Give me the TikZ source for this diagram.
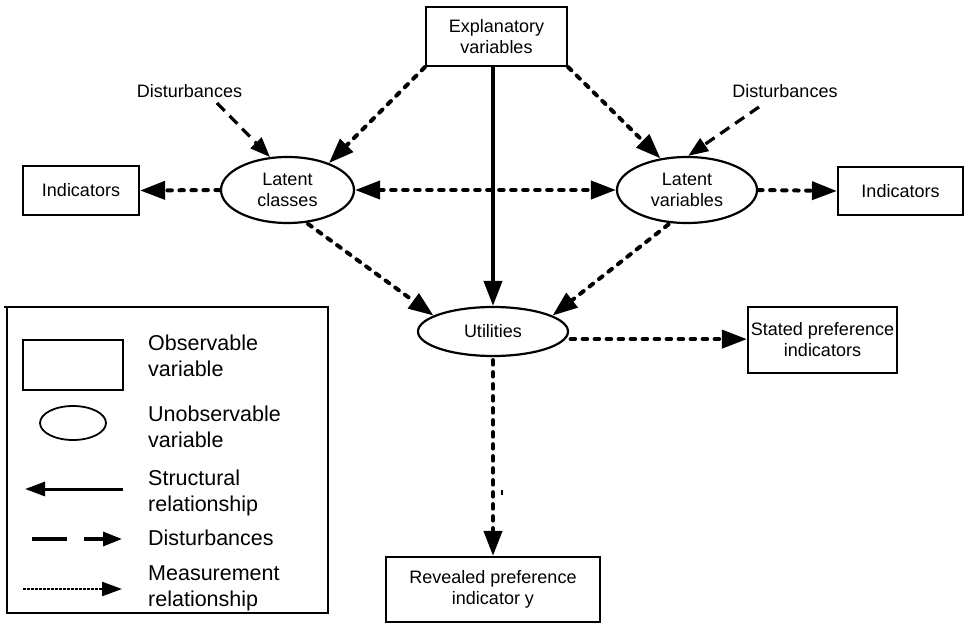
\documentclass[tikz,border=0pt]{standalone}
\usepackage{fontspec}
\setmainfont{Liberation Sans}
\usetikzlibrary{arrows.meta,shapes.geometric}
\begin{document}
\begin{tikzpicture}[x=1pt,y=-1pt,
  box/.style={draw, line width=2.2pt, rectangle, inner sep=0pt, align=center, font=\fontsize{18}{21}\selectfont},
  ell/.style={draw, line width=2.2pt, ellipse, inner sep=0pt, align=center, font=\fontsize{18}{21}\selectfont},
  lbl/.style={inner sep=0pt, font=\fontsize{18}{21}\selectfont},
  leg/.style={inner sep=0pt, anchor=west, align=left, font=\fontsize{21.5}{26}\selectfont},
  bigtip/.style={-{Triangle[length=25pt,width=18pt]}},
  bothtip/.style={{Triangle[length=25pt,width=18pt]}-{Triangle[length=25pt,width=18pt]}},
  measline/.style={line width=4pt, dash pattern=on 4.5pt off 7.5pt, line cap=round},
  meas/.style={measline, bigtip},
  dist/.style={line width=3.2pt, dash pattern=on 11pt off 7pt, -{Triangle[length=20pt,width=15pt]}},
  struct/.style={line width=4pt, bigtip},
]
\useasboundingbox (0,0) rectangle (967,623);

% main nodes
\node[box, minimum width=141pt, minimum height=59pt] (ev) at (496.5,36.5) {Explanatory\\variables};
\node[box, minimum width=116pt, minimum height=49pt] (li) at (81,190.5) {Indicators};
\node[box, minimum width=125pt, minimum height=48pt] (ri) at (900.5,191) {Indicators};
\node[ell, minimum width=133pt, minimum height=66pt] (lc) at (287.5,190) {Latent\\classes};
\node[ell, minimum width=140pt, minimum height=66pt] (lv) at (687,190) {Latent\\variables};
\node[ell, minimum width=150pt, minimum height=49pt] (u) at (493,331.5) {Utilities};
\node[box, minimum width=149pt, minimum height=66pt] (sp) at (822.5,340) {Stated preference\\indicators};
\node[box, minimum width=214pt, minimum height=65pt] (rp) at (493,589.5) {Revealed preference\\indicator y};
\node[lbl] (dl) at (189.5,91) {Disturbances};
\node[lbl] (dr) at (785,91) {Disturbances};
\coordinate (dls) at (217,103);
\coordinate (drs) at (759,107);

% connectors
\draw[meas] (ev.south west) -- (lc.33);
\draw[meas] (ev.south east) -- (lv.130);
\draw[struct] (ev.south -| u.north) -- (u.north);
\draw[dist] (dls) -- (lc.118);
\draw[dist] (drs) -- (lv.88);
\draw[meas] (lc.west) -- (li.east);
\draw[measline, bothtip] (lc.east) -- (lv.west);
\draw[meas] (lv.east) -- (ri.west);
\draw[meas, shorten <=2pt] (lc.-60) -- (u.165);
\draw[meas, shorten <=2pt] (lv.-117) -- (u.15);
\draw[meas, shorten <=5pt] (u.-6) -- (u.-6 -| sp.west);
\draw[meas, shorten <=3pt] (u.south) -- (rp.north);
\coordinate (tk1) at (502,490);
\coordinate (tk2) at (502,495);
\draw[line width=1.5pt] (tk1) -- (tk2);

% legend
\coordinate (lgtl) at (7,307);
\coordinate (lgbr) at (328,613);
\draw[line width=1.4pt] (lgtl) rectangle (lgbr);
\coordinate (lgt1) at (4,307);
\coordinate (lgt2) at (328,307);
\draw[line width=2.4pt] (lgt1) -- (lgt2);
\node[draw, line width=2.2pt, minimum width=100pt, minimum height=50pt, inner sep=0pt] (lobs) at (73,365) {};
\node[draw, line width=1.8pt, ellipse, minimum width=66pt, minimum height=34pt, inner sep=0pt] (lunobs) at (73,423) {};
\coordinate (ls1) at (123,489);
\coordinate (ls2) at (25,489);
\draw[line width=3pt, -{Triangle[length=20pt,width=14pt]}] (ls1) -- (ls2);
\coordinate (ld1) at (32,539);
\coordinate (ld2) at (122,539);
\draw[line width=3.2pt, dash pattern=on 35pt off 17pt, -{Triangle[length=19pt,width=14pt]}] (ld1) -- (ld2);
\coordinate (lm1) at (23,589);
\coordinate (lm2) at (122,589);
\draw[line width=2.5pt, dash pattern=on 2.5pt off 1.5pt, -{Triangle[length=20pt,width=14pt]}] (lm1) -- (lm2);
\node[leg] (t1) at (148,356) {Observable\\variable};
\node[leg] (t2) at (148,426.5) {Unobservable\\variable};
\node[leg] (t3) at (148,492.5) {Structural\\relationship};
\node[leg] (t4) at (148,538) {Disturbances};
\node[leg] (t5) at (148,588.5) {Measurement\\relationship};
\end{tikzpicture}
\end{document}
